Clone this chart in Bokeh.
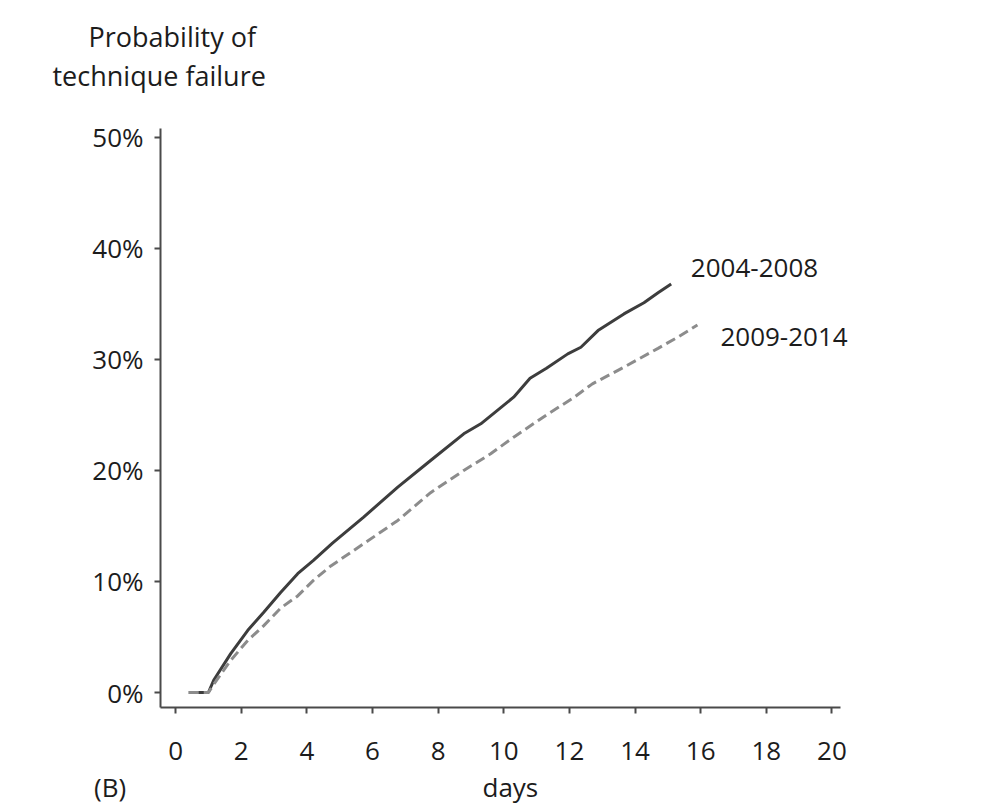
from bokeh.plotting import figure
from bokeh.models import Label, FixedTicker, PrintfTickFormatter, Range1d, Title, LinearAxis
from bokeh.embed import file_html
from bokeh.resources import INLINE

# Data
days_0408 = [0.4, 1.0, 1.16, 1.68, 2.2, 2.68, 3.2, 3.72, 4.2, 4.78, 5.73, 6.77, 7.77,
             8.78, 9.3, 10.3, 10.8, 11.3, 11.95, 12.35, 12.87, 13.66, 14.27, 14.7, 15.1]
prob_0408 = [0, 0, 1.1, 3.5, 5.6, 7.2, 9.0, 10.7, 11.9, 13.45, 15.8, 18.5, 20.9,
             23.3, 24.2, 26.6, 28.3, 29.2, 30.5, 31.1, 32.6, 34.1, 35.1, 36.0, 36.8]

days_0914 = [0.4, 1.0, 1.2, 1.68, 2.2, 2.68, 3.2, 3.72, 4.2, 4.73, 5.73, 6.77, 7.77,
             8.78, 9.6, 10.3, 11.3, 12.1, 12.7, 13.66, 14.7, 15.3, 15.9]
prob_0914 = [0, 0, 0.9, 2.9, 4.7, 6.0, 7.6, 8.7, 10.1, 11.4, 13.4, 15.5, 18.0,
             20.0, 21.5, 23.0, 25.0, 26.5, 27.8, 29.3, 31.0, 32.0, 33.1]

x_ticks = [0, 2, 4, 6, 8, 10, 12, 14, 16, 18, 20]
y_ticks = [0, 10, 20, 30, 40, 50]
series_labels = ["2004-2008", "2009-2014"]
x_axis_title = "days"
panel_tag = "(B)"

FONT = "Open Sans"
TXT = "#1c1c1c"
AX = "#4a4a4a"
FS = "26px"

X0, X1 = -0.46, 20.27        # visible extent of the x axis
p = figure(width=1000, height=811, output_backend="svg", toolbar_location=None,
           x_range=Range1d(X0, 21.6), y_range=Range1d(-1.35, 50.8),
           min_border_left=160, min_border_right=116, min_border_top=128,
           min_border_bottom=104)
p.outline_line_color = None
p.xgrid.visible = False
p.ygrid.visible = False
p.background_fill_color = "white"
p.border_fill_color = "white"

# heading: spacer nearest the frame, then the two text lines
p.title.text = "Probability of"
p.title.align = "left"
p.title.offset = -72
p.title.standoff = 0
p.title.text_font = FONT
p.title.text_font_size = "27px"
p.title.text_font_style = "normal"
p.title.text_color = TXT
p.add_layout(Title(text="\u00a0", standoff=6, text_font=FONT, text_font_size="20px"),
             "above")
p.add_layout(Title(text="technique failure", align="left", offset=-108, standoff=0,
                   text_font=FONT, text_font_size="27px", text_font_style="normal",
                   text_line_height=1.0, text_color=TXT), "above")

for ax in (p.xaxis[0], p.yaxis[0]):
    ax.axis_line_color = AX
    ax.axis_line_width = 2
    ax.major_tick_line_color = AX
    ax.major_tick_line_width = 2
    ax.major_tick_out = 6
    ax.major_tick_in = 0
    ax.minor_tick_line_color = None
    ax.major_label_text_font = FONT
    ax.major_label_text_font_size = FS
    ax.major_label_text_color = TXT

p.xaxis[0].bounds = (X0, X1)
p.xaxis[0].ticker = FixedTicker(ticks=x_ticks)
p.yaxis[0].ticker = FixedTicker(ticks=y_ticks)
p.yaxis[0].formatter = PrintfTickFormatter(format="%d%%")
p.xaxis[0].major_label_standoff = 28
p.yaxis[0].major_label_standoff = 11

# second, invisible axis row carrying the panel tag and the axis title
nb = "\u00a0" * 15
tag_axis = LinearAxis(ticker=FixedTicker(ticks=[-0.45, 10.2]),
                      major_label_overrides={-0.45: panel_tag + nb, 10.2: x_axis_title},
                      axis_line_color=None, major_tick_line_color=None,
                      minor_tick_line_color=None, major_tick_out=0, major_tick_in=0,
                      major_label_standoff=6, major_label_text_font=FONT,
                      major_label_text_font_size=FS, major_label_text_color=TXT)
p.add_layout(tag_axis, "below")

p.line(days_0408, prob_0408, line_color="#3d3d3d", line_width=3)
p.line(days_0914, prob_0914, line_color="#8c8c8c", line_width=3, line_dash="10 5")

def lab(x, y, text):
    p.add_layout(Label(x=x, y=y, text=text, text_align="left", text_baseline="middle",
                       text_font=FONT, text_font_size=FS, text_color=TXT))

lab(15.7, 38.2, series_labels[0])
lab(16.6, 32.0, series_labels[1])

open("out.html", "w").write(file_html(p, INLINE))
